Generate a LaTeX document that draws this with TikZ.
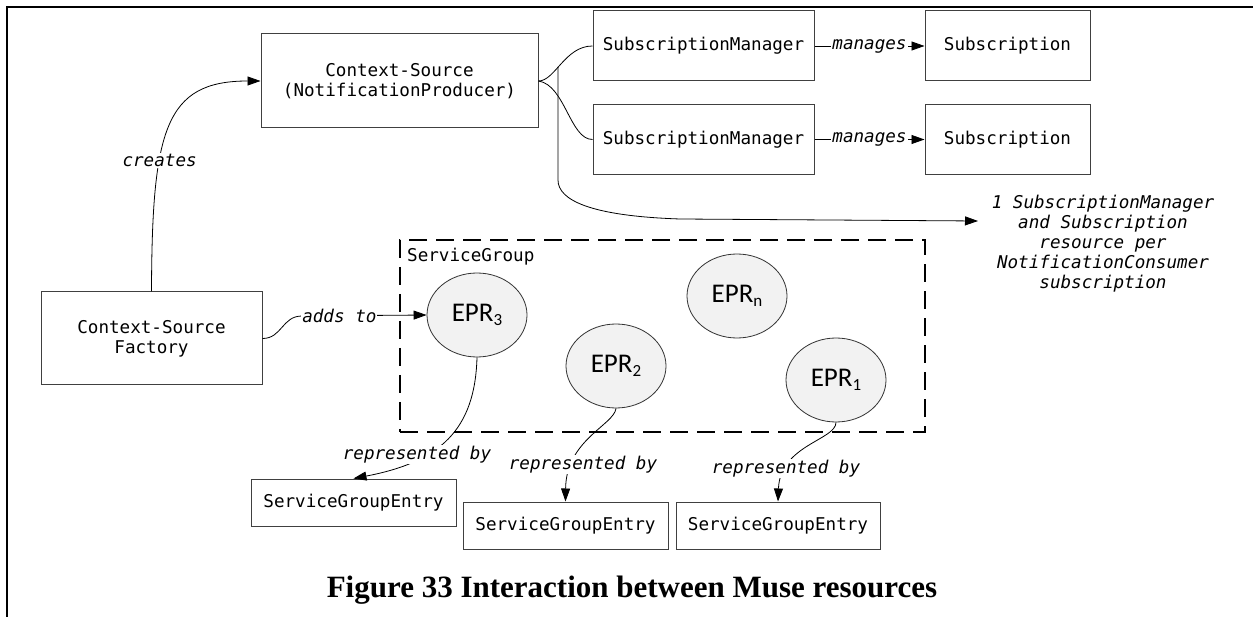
\documentclass[tikz,border=0pt]{standalone}
\usepackage{fontspec}
\setmainfont{Liberation Serif}
\newfontfamily\codefont{DejaVu Sans Mono}
\newfontfamily\eprfont{Carlito}
\usetikzlibrary{arrows.meta,shapes.geometric}

\newcommand\eprsub[1]{{\fontsize{17}{17}\selectfont\raisebox{-4pt}{#1}}}

\tikzset{
  res/.style={draw=black!75, line width=1pt, inner sep=0pt, align=center,
    font=\codefont\fontsize{17.6}{20}\selectfont},
  txt/.style={inner sep=1pt, font=\codefont\fontsize{17.6}{20}\selectfont},
  epr/.style={ellipse, draw=black!80, line width=0.8pt, fill=black!5,
    minimum width=100pt, minimum height=84pt, inner sep=0pt,
    font=\eprfont\fontsize{27}{27}\selectfont},
  lbl/.style={fill=white, inner sep=1pt,
    font=\codefont\itshape\fontsize{17.6}{20}\selectfont},
  wire/.style={line width=0.8pt},
  conn/.style={wire, -{Triangle[length=13pt,width=9pt]}},
}

\begin{document}
\begin{tikzpicture}[x=1pt,y=-1pt]
  \useasboundingbox (0,0) rectangle (1253,617);
  \draw[line width=2pt] (7,617) -- (7,7) -- (1253,7);

  \node[res, minimum width=277pt, minimum height=94pt] (cs) at (399.5,81) {Context-Source\\(NotificationProducer)};
  \node[res, minimum width=221pt, minimum height=70pt] (sm1) at (703.5,46) {SubscriptionManager};
  \node[res, minimum width=221pt, minimum height=70pt] (sm2) at (703.5,139.5) {SubscriptionManager};
  \node[res, minimum width=165pt, minimum height=70pt] (sub1) at (1007.5,46) {Subscription};
  \node[res, minimum width=165pt, minimum height=70pt] (sub2) at (1007.5,139.5) {Subscription};
  \node[res, minimum width=221pt, minimum height=93pt] (fac) at (151.5,338.5) {Context-Source\\Factory};

  \node[draw, line width=2.5pt, dash pattern=on 18pt off 9pt, minimum width=525pt, minimum height=192pt] (sg) at (662.5,336) {};
  \node[txt, anchor=west] (sglbl) at (406,257) {ServiceGroup};
  \node[epr] (epr3) at (477,315) {EPR\eprsub{3}};
  \node[epr] (epr2) at (616,366) {EPR\eprsub{2}};
  \node[epr] (eprn) at (737,296) {EPR\eprsub{n}};
  \node[epr] (epr1) at (836,380) {EPR\eprsub{1}};

  \node[res, minimum width=205pt, minimum height=47pt] (sge1) at (353.5,502.5) {ServiceGroupEntry};
  \node[res, minimum width=205pt, minimum height=47pt] (sge2) at (565.5,525.5) {ServiceGroupEntry};
  \node[res, minimum width=204pt, minimum height=47pt] (sge3) at (778,525.5) {ServiceGroupEntry};

  \node[txt, align=center, font=\codefont\itshape\fontsize{17.6}{20}\selectfont] (note) at (1103,244)
    {1 SubscriptionManager\\and Subscription\\resource per\\NotificationConsumer\\subscription};
  \coordinate (notein) at (978,221);
  \coordinate (fork) at (558,67);

  \draw[conn] (fac.north) .. controls (152,130) and (165,81) .. node[lbl, pos=0.35] (creates) {creates} (cs.west);
  \draw[wire] (cs.east) .. controls (555,81) and (565,46) .. (sm1.west);
  \draw[wire] (cs.east) .. controls (565,85) and (570,139.5) .. (sm2.west);
  \draw[conn] (fork) -- (558,180) .. controls (558,200) and (590,216) .. (680,219) -- (notein);
  \draw[conn] (sm1.east) -- node[lbl] (man1) {manages} (sub1.west);
  \draw[conn] (sm2.east) -- node[lbl] (man2) {manages} (sub2.west);
  \draw[conn] (fac.east) .. controls (282,338.5) and (282,316) .. (302,316) -- node[lbl, pos=0.3] (adds) {adds to} (epr3.west);

  \draw[conn] (epr3.south) .. controls (475,430) and (440,462) .. (sge1.north);
  \draw[conn] (epr2.south) .. controls (614,425) and (566,440) .. (sge2.north);
  \draw[conn] (epr1.south) .. controls (836,440) and (780,445) .. (sge3.north);
  \node[lbl, anchor=base] (rep1) at (417,459.5) {represented by};
  \node[lbl, anchor=base] (rep2) at (583,469.5) {represented by};
  \node[lbl, anchor=base] (rep3) at (786,473.5) {represented by};

  \node[font=\bfseries\fontsize{31}{31}\selectfont, anchor=base] (caption) at (632,597) {Figure 33 Interaction between Muse resources};
\end{tikzpicture}
\end{document}
